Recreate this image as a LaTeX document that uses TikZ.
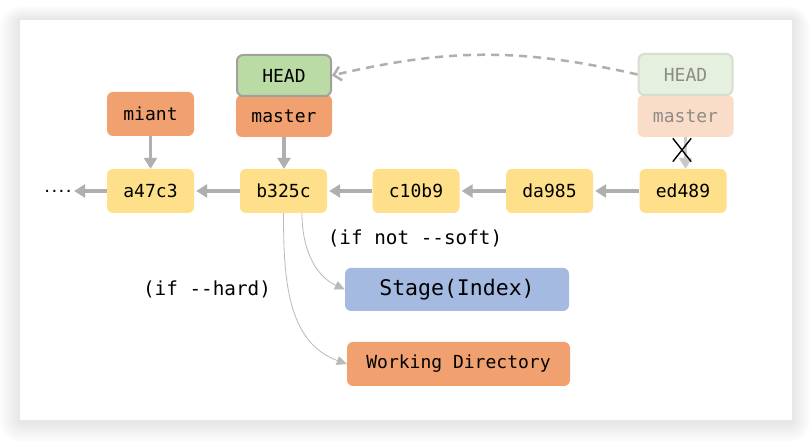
\documentclass[tikz,border=0pt]{standalone}
\usepackage{fontspec}
\setmonofont{DejaVu Sans Mono}
\usetikzlibrary{arrows.meta,shapes.misc}
\definecolor{commityellow}{RGB}{253,224,137}
\definecolor{branchorange}{RGB}{240,161,111}
\definecolor{headgreen}{RGB}{187,219,164}
\definecolor{headborder}{RGB}{160,160,160}
\definecolor{stageblue}{RGB}{165,186,225}
\definecolor{arrowgray}{RGB}{175,175,175}
\definecolor{thingray}{RGB}{185,185,185}
\definecolor{oldheadfill}{RGB}{229,240,223}
\definecolor{oldheadborder}{RGB}{214,222,210}
\definecolor{oldmasterfill}{RGB}{250,221,201}
\definecolor{oldtext}{RGB}{140,140,135}
\definecolor{oldarrow}{RGB}{200,200,200}
\tikzset{
  box/.style={rounded corners=6pt, inner sep=0pt, font=\ttfamily\fontsize{18}{21}\selectfont},
  commit/.style={box, fill=commityellow, minimum width=87pt, minimum height=44pt},
  branch/.style={box, fill=branchorange, minimum width=96pt, minimum height=42pt},
  headbox/.style={box, fill=headgreen, draw=headborder, line width=2pt, minimum width=94pt, minimum height=41pt},
  parent/.style={-{Triangle[width=13pt,length=11pt]}, draw=arrowgray, line width=3.5pt},
  effect/.style={-{Triangle[width=9pt,length=10pt]}, draw=thingray, line width=0.8pt},
  cond/.style={font=\ttfamily\fontsize{19.3}{22}\selectfont},
}
\begin{document}
\begin{tikzpicture}[x=1pt,y=1pt]
    \useasboundingbox (0,0) rectangle (812,441);
    % card with its shadow
    \foreach \s in {1,...,24}
        \fill[black,opacity=0.0035,rounded corners=\s pt] (20-\s*0.9,19-\s*0.9) rectangle (792+\s*0.8,421+\s*0.6);
    \fill[white] (20,21) rectangle (792,421);
    % commits
    \node[commit] (a47c3) at (150.5,250) {a47c3};
    \node[commit] (b325c) at (283.5,250) {b325c};
    \node[commit] (c10b9) at (416,250) {c10b9};
    \node[commit] (da985) at (549.5,250) {da985};
    \node[commit] (ed489) at (683,250) {ed489};
    \node[font=\ttfamily\bfseries\fontsize{12}{13}\selectfont,inner sep=1.5pt] (more) at (58,250) {....};
    % branches
    \node[branch,minimum width=87pt,minimum height=44pt] (miant) at (150.5,327) {miant};
    \node[branch] (master) at (284,325) {master};
    \node[headbox] (head) at (284,365.5) {HEAD};
    \node[branch,fill=oldmasterfill,text=oldtext] (oldmaster) at (685.5,325) {master};
    \node[headbox,fill=oldheadfill,draw=oldheadborder,text=oldtext] (oldhead) at (685.5,366.5) {HEAD};
    % reset targets
    \node[box,fill=stageblue,minimum width=224pt,minimum height=43pt,font=\ttfamily\fontsize{21.5}{24}\selectfont] (stage) at (457,151.5) {Stage(Index)};
    \node[box,fill=branchorange,minimum width=223pt,minimum height=44pt] (workdir) at (458.5,77) {Working Directory};
    \node[cond] (notsoft) at (415,203) {(if not -{}-soft)};
    \node[cond] (hard) at (207,152) {(if -{}-hard)};
    % history
    \draw[parent] (a47c3) -- (more);
    \draw[parent,shorten >=2pt] (b325c) -- (a47c3);
    \draw[parent,shorten >=2pt] (c10b9) -- (b325c);
    \draw[parent,shorten >=2pt] (da985) -- (c10b9);
    \draw[parent,shorten >=2pt] (ed489) -- (da985);
    \draw[parent] (miant) -- (a47c3);
    \draw[parent] (master.south) -- (master.south |- b325c.north);
    \draw[parent,draw=oldarrow] (oldmaster.south) -- (oldmaster.south |- ed489.north);
    \node[cross out,draw=black,line width=1.4pt,minimum width=17pt,minimum height=22pt,inner sep=0pt] (cut) at (682,291) {};
    % HEAD moves back
    \draw[dash pattern=on 8pt off 6pt,line width=2.5pt,draw=arrowgray,-{Straight Barb[length=7pt,width=14pt]}] (oldhead.west) to[bend right=13] (head.east);
    \draw[effect] ([xshift=18.5pt]b325c.south) to[out=-90,in=155] (stage.west);
    \draw[effect] (b325c.south) to[out=-90,in=160] (workdir.west);
\end{tikzpicture}
\end{document}
